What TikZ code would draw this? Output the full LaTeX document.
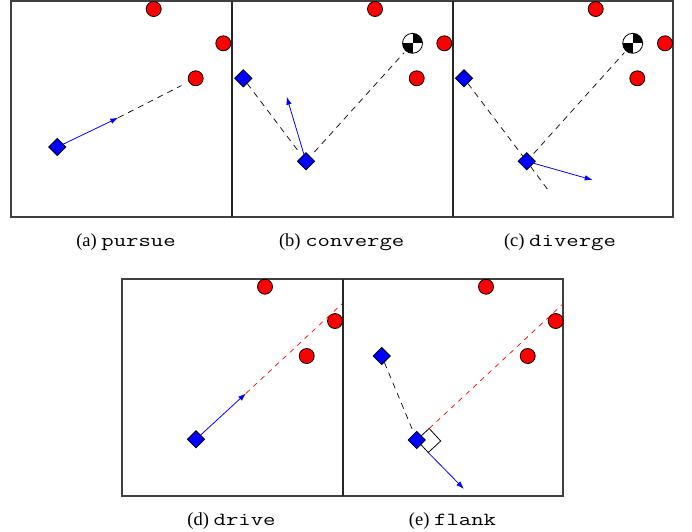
\documentclass[tikz,border=0pt]{standalone}
\usepackage{fontspec}
\setmainfont{Liberation Serif}
\setmonofont{Latin Modern Mono}
\usetikzlibrary{shapes.geometric,arrows.meta}
\newcommand{\mymono}[1]{\scalebox{1.3}[1]{\texttt{#1}}}
\begin{document}
\begin{tikzpicture}[x=1pt,y=-1pt,
  panel/.style={draw=black!75, line width=1.2pt},
  shared/.style={draw=black!85, line width=1.8pt},
  redc/.style={circle, fill=red, draw=black, line width=0.8pt, minimum size=15pt, inner sep=0pt},
  bdia/.style={diamond, fill=blue, draw=black, line width=0.8pt, minimum size=17.5pt, inner sep=0pt},
  chk/.style={circle, draw=black, fill=white, line width=0.8pt, minimum size=20pt, inner sep=0pt,
    path picture={\fill[black] (path picture bounding box.center) rectangle (path picture bounding box.north east);
                  \fill[black] (path picture bounding box.center) rectangle (path picture bounding box.south west);}},
  bdash/.style={draw=black, dash pattern=on 6pt off 5pt, line width=0.7pt},
  rdash/.style={draw=red, dash pattern=on 5pt off 5pt, line width=0.7pt},
  barrow/.style={draw=blue, line width=0.8pt, -{Latex[length=8pt,width=5.5pt]}},
  captxt/.style={inner sep=0pt, font=\fontsize{18.5}{21}\selectfont}
]
\useasboundingbox (0,0) rectangle (692,531);

% panels
\draw[panel] (11,1) rectangle (232,217);
\draw[panel] (232,1) rectangle (453,217);
\draw[panel] (453,1) rectangle (673,217);
\draw[panel] (122,279) rectangle (343,496);
\draw[panel] (343,279) rectangle (563,496);
\draw[shared] (232,1) -- (232,217);
\draw[shared] (453,1) -- (453,217);
\draw[shared] (343,279) -- (343,496);

% ---------- (a) pursue
\node[redc] (A1) at (153.7,9) {};
\node[redc] (A2) at (223.3,43.3) {};
\node[redc] (A3) at (195.7,78.3) {};
\node[bdia] (Da) at (57.3,147) {};
\coordinate (tipA) at (118.3,117.7);
\draw[bdash, shorten >=8pt] (tipA) -- (A3);
\draw[barrow] (Da.center) -- (tipA);

% ---------- (b) converge
\node[redc] (B1) at (375,9) {};
\node[chk]  (BC) at (412.5,43.3) {};
\node[redc] (B2) at (444.3,43.3) {};
\node[redc] (B3) at (416.7,78.3) {};
\node[bdia] (Db1) at (243.3,78.3) {};
\node[bdia] (Db2) at (306,161.3) {};
\coordinate (tipB) at (286.7,96.7);
\draw[bdash, shorten >=5pt] (Db1) -- (Db2);
\draw[bdash, shorten <=6pt, shorten >=2pt] (Db2) -- (BC);
\draw[barrow] (Db2.center) -- (tipB);

% ---------- (c) diverge
\node[redc] (C1) at (595.7,9) {};
\node[chk]  (CC) at (632.7,43.3) {};
\node[redc] (C2) at (665,43.3) {};
\node[redc] (C3) at (637.3,78.3) {};
\node[bdia] (Dc1) at (464,78.3) {};
\node[bdia] (Dc2) at (526.7,161.3) {};
\coordinate (cend) at (547.3,189);
\coordinate (tipC) at (592.7,180);
\draw[bdash] (Dc1) -- (Dc2);
\draw[bdash] (Dc2) -- (cend);
\draw[bdash, shorten <=4pt, shorten >=2pt] (Dc2) -- (CC);
\draw[barrow] (Dc2.center) -- (tipC);

% ---------- (d) drive
\node[redc] (D1) at (265,286.7) {};
\node[redc] (D2) at (335,321) {};
\node[redc] (D3) at (306.7,356) {};
\node[bdia] (Dd) at (196,439.3) {};
\coordinate (tipD) at (246,393.3);
\coordinate (edgeD) at (342,303.8);
\draw[rdash] (tipD) -- (edgeD);
\draw[barrow] (Dd.center) -- (tipD);

% ---------- (e) flank
\coordinate (sq0) at (416.7,440);
\coordinate (sq1) at (429.2,428.5);
\coordinate (sq2) at (440.7,441);
\coordinate (sq3) at (428.2,452.5);
\draw[black, line width=0.8pt] (sq0) -- (sq1) -- (sq2) -- (sq3) -- cycle;
\node[redc] (E1) at (486,286.7) {};
\node[redc] (E2) at (555.7,321) {};
\node[redc] (E3) at (527.7,356) {};
\node[bdia] (De1) at (381.7,356) {};
\node[bdia] (De2) at (416.7,440) {};
\coordinate (edgeE) at (562.5,304.3);
\coordinate (tipE) at (464,489);
\draw[bdash] (De1) -- (De2);
\draw[rdash] (sq1) -- (edgeE);
\draw[barrow] (sq3) -- (tipE);

% ---------- captions
\node[captxt] (capa) at (126,242) {(a) \mymono{pursue}};
\node[captxt] (capb) at (341.7,242) {(b) \mymono{converge}};
\node[captxt] (capc) at (560,242) {(c) \mymono{diverge}};
\node[captxt] (capd) at (231.5,521) {(d) \mymono{drive}};
\node[captxt] (cape) at (452.5,521) {(e) \mymono{flank}};
\end{tikzpicture}
\end{document}
